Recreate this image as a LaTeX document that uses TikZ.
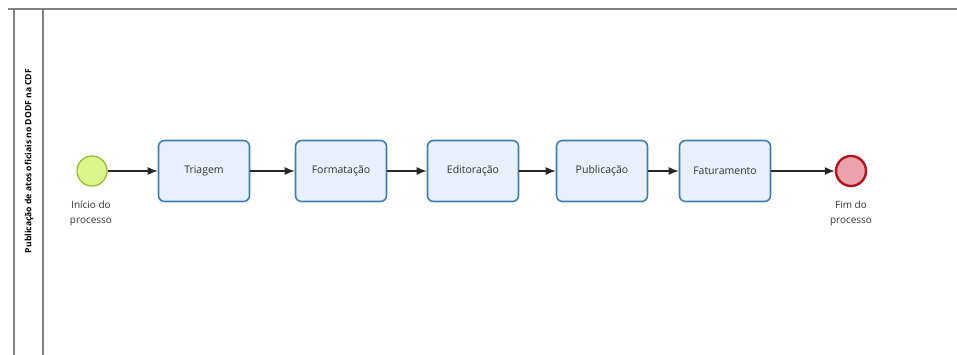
\documentclass[tikz,border=0pt]{standalone}
\usepackage{fontspec}
\setmainfont{Open Sans}
\usetikzlibrary{arrows.meta}
\begin{document}
\begin{tikzpicture}[x=1pt,y=-1pt,
  lane/.style={draw=black!50,line width=1.4pt},
  task/.style={draw=taskborder,fill=taskfill,line width=1.6pt,rounded corners=6pt,
    minimum width=91pt,minimum height=61pt,inner sep=0pt,font=\fontsize{10.5}{12}\selectfont,text=black!80},
  startev/.style={circle,draw=startborder,fill=startfill,line width=1.3pt,minimum size=30pt,inner sep=0pt},
  endev/.style={circle,draw=endborder,fill=endfill,line width=2.4pt,minimum size=30pt,inner sep=0pt},
  evlabel/.style={align=center,font=\fontsize{10}{15}\selectfont,text=black!80},
  flow/.style={draw=black!85,line width=1.3pt,-{Latex[length=10pt,width=8pt]}}
]
\definecolor{taskfill}{HTML}{E9EFFB}
\definecolor{taskborder}{HTML}{3D80A8}
\definecolor{startfill}{HTML}{DDF58A}
\definecolor{startborder}{HTML}{98BC35}
\definecolor{endfill}{HTML}{EAA3AB}
\definecolor{endborder}{HTML}{B4121F}
\useasboundingbox (0,0) rectangle (957,355);

% pool and lane borders
\draw[lane] (8,9) -- (957,9);
\draw[lane] (14,9) -- (14,355);
\draw[lane] (43,9) -- (43,355);
\node[rotate=90,font=\bfseries\fontsize{8.6}{10}\selectfont] (lanename) at (29,161)
  {Publicação de atos oficiais no DODF na CDF};

% events
\node[startev] (start) at (92,171) {};
\node[evlabel,anchor=north] (startlbl) at (91,197) {Início do\\processo};
\node[endev] (end) at (851,171) {};
\node[evlabel,anchor=north] (endlbl) at (851,197) {Fim do\\processo};

% tasks
\node[task] (triagem) at (204,171) {Triagem};
\node[task] (formatacao) at (341,171) {Formatação};
\node[task] (editoracao) at (473,171) {Editoração};
\node[task] (publicacao) at (602,171) {Publicação};
\node[task] (faturamento) at (725,171) {Faturamento};

% sequence flows
\draw[flow] (start) -- (triagem);
\draw[flow] (triagem) -- (formatacao);
\draw[flow] (formatacao) -- (editoracao);
\draw[flow] (editoracao) -- (publicacao);
\draw[flow] (publicacao) -- (faturamento);
\draw[flow] (faturamento) -- (end);
\end{tikzpicture}
\end{document}
